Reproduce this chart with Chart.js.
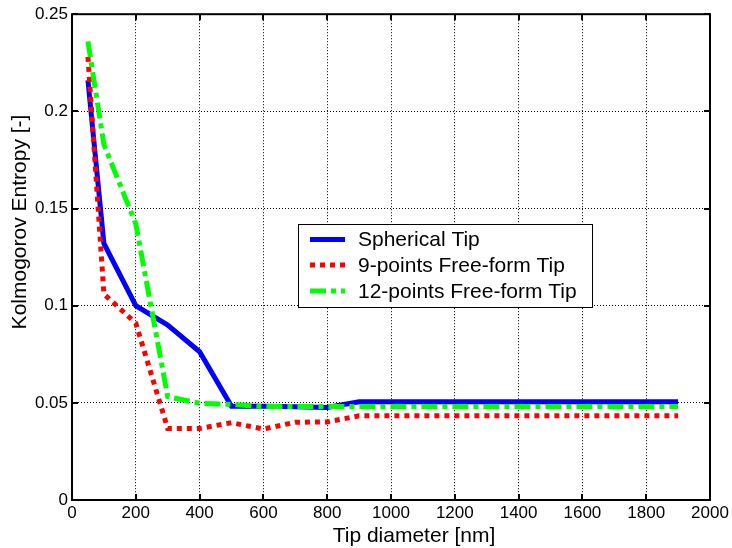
<!DOCTYPE html>
<html><head><meta charset="utf-8">
<script src="https://cdn.jsdelivr.net/npm/chart.js@4.4.0/dist/chart.umd.min.js"></script>
<style>html,body{margin:0;padding:0;background:#fff;} canvas{display:block;}</style>
</head><body>
<canvas id="c" width="732" height="548"></canvas>
<script>
// ---- data ----
const tipDiameters = [50,100,200,300,400,500,600,700,800,900,1000,1100,1200,1300,1400,1500,1600,1700,1800,1900];
const sphericalTip   = [0.216,0.132,0.100,0.090,0.0763,0.0483,0.0482,0.0480,0.0476,0.0506,0.0506,0.0506,0.0506,0.0506,0.0506,0.0506,0.0506,0.0506,0.0506,0.0506];
const ninePointTip   = [0.228,0.106,0.091,0.0368,0.0368,0.0398,0.0365,0.0400,0.0402,0.0433,0.0433,0.0433,0.0433,0.0433,0.0433,0.0433,0.0433,0.0433,0.0433,0.0433];
const twelvePointTip = [0.236,0.183,0.142,0.0532,0.0498,0.0492,0.0481,0.0481,0.0481,0.0481,0.0481,0.0481,0.0481,0.0481,0.0481,0.0481,0.0481,0.0481,0.0481,0.0481];
const seriesNames = ['Spherical Tip','9-points Free-form Tip','12-points Free-form Tip'];
const xTickValues = [0,200,400,600,800,1000,1200,1400,1600,1800,2000];
const yTickValues = [0,0.05,0.1,0.15,0.2,0.25];
const yTickLabels = ['0','0.05','0.1','0.15','0.2','0.25'];
const xAxisTitle = 'Tip diameter [nm]';
const yAxisTitle = 'Kolmogorov Entropy [-]';

const FONT = '"Liberation Sans", Arial, Helvetica, sans-serif';
const toPts = ys => tipDiameters.map((x,i)=>({x:x, y:ys[i]}));

const frameLegendPlugin = {
  id: 'frameLegend',
  afterDraw(chart) {
    const ctx = chart.ctx, a = chart.chartArea;
    const xs = chart.scales.x, ys = chart.scales.y;
    ctx.save();
    // box
    ctx.strokeStyle = '#000'; ctx.lineWidth = 2; ctx.setLineDash([]);
    ctx.strokeRect(a.left, a.top, a.right - a.left, a.bottom - a.top);
    // inward ticks
    ctx.lineWidth = 2;
    ctx.beginPath();
    xTickValues.forEach(v => {
      const px = Math.round(xs.getPixelForValue(v));
      ctx.moveTo(px, a.bottom); ctx.lineTo(px, a.bottom - 6);
      ctx.moveTo(px, a.top); ctx.lineTo(px, a.top + 6);
    });
    yTickValues.forEach(v => {
      const py = Math.round(ys.getPixelForValue(v));
      ctx.moveTo(a.left, py); ctx.lineTo(a.left + 6, py);
      ctx.moveTo(a.right, py); ctx.lineTo(a.right - 6, py);
    });
    ctx.stroke();
    // axis titles
    ctx.fillStyle = '#000';
    ctx.font = '21px ' + FONT;
    ctx.textAlign = 'center'; ctx.textBaseline = 'alphabetic';
    ctx.fillText(xAxisTitle, 414, 541.5);
    ctx.save();
    ctx.translate(26, 222); ctx.rotate(-Math.PI/2);
    ctx.fillText(yAxisTitle, 0, 0);
    ctx.restore();
    // legend
    const L = {x:298, y:224, w:294, h:83, rows:[239.5,265,291], l0:310, l1:345, tx:358};
    ctx.fillStyle = '#fff';
    ctx.fillRect(L.x, L.y, L.w, L.h);
    ctx.lineWidth = 1; ctx.strokeStyle = '#000';
    ctx.strokeRect(L.x + 0.5, L.y + 0.5, L.w, L.h);
    chart.data.datasets.forEach((ds, i) => {
      const y = L.rows[i];
      ctx.strokeStyle = ds.borderColor; ctx.lineWidth = ds.borderWidth;
      ctx.lineCap = 'butt';
      ctx.setLineDash(ds.borderDash || []);
      ctx.beginPath(); ctx.moveTo(L.l0, y); ctx.lineTo(L.l1, y); ctx.stroke();
      ctx.setLineDash([]);
      ctx.fillStyle = '#000'; ctx.font = '21px ' + FONT;
      ctx.textAlign = 'left'; ctx.textBaseline = 'middle';
      ctx.fillText(ds.label, L.tx, y + 1);
    });
    ctx.restore();
  }
};

new Chart(document.getElementById('c'), {
  type: 'line',
  data: {
    datasets: [
      {label: seriesNames[0], data: toPts(sphericalTip), borderColor: '#0000ff', borderWidth: 5, borderDash: [], order: 3},
      {label: seriesNames[1], data: toPts(ninePointTip), borderColor: '#ff0000', borderWidth: 5, borderDash: [5,5], order: 2},
      {label: seriesNames[2], data: toPts(twelvePointTip), borderColor: '#00ff00', borderWidth: 5, borderDash: [16,5,5,5], order: 1}
    ]
  },
  options: {
    responsive: false,
    animation: false,
    devicePixelRatio: 1,
    layout: {padding: {left: 0, top: 14, right: 22, bottom: 0}},
    elements: {
      point: {radius: 0, hoverRadius: 0},
      line: {tension: 0, borderCapStyle: 'butt', borderJoinStyle: 'miter', fill: false}
    },
    plugins: {legend: {display: false}, tooltip: {enabled: false}, title: {display: false}},
    scales: {
      x: {
        type: 'linear', min: 0, max: 2000,
        afterBuildTicks: s => { s.ticks = xTickValues.map(v => ({value: v})); },
        afterFit: s => { s.height = 48; },
        ticks: {color: '#000', font: {family: FONT, size: 17}, padding: 3, maxRotation: 0, autoSkip: false, callback: v => String(v)},
        grid: {color: '#000', lineWidth: 1, drawTicks: false},
        border: {display: false, dash: [1,2]}
      },
      y: {
        type: 'linear', min: 0, max: 0.25,
        afterBuildTicks: s => { s.ticks = yTickValues.map(v => ({value: v})); },
        afterFit: s => { s.width = 72; },
        ticks: {color: '#000', font: {family: FONT, size: 17}, padding: 4, autoSkip: false, callback: (v, i) => yTickLabels[i]},
        grid: {color: '#000', lineWidth: 1, drawTicks: false},
        border: {display: false, dash: [1,2]}
      }
    }
  },
  plugins: [frameLegendPlugin]
});
</script>
</body></html>
